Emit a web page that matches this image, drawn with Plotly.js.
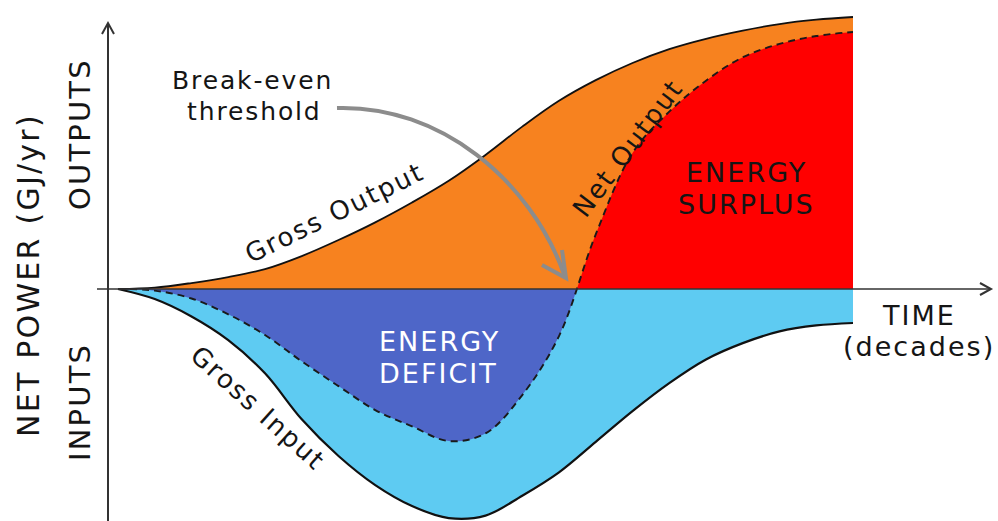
<!DOCTYPE html>
<html>
<head>
<meta charset="utf-8">
<script src="https://cdn.plot.ly/plotly-3.0.1.min.js"></script>
<style>
  html, body { margin: 0; padding: 0; background: #fff; }
  #chart { width: 998px; height: 521px; }
  text.annotation-text { letter-spacing: 0.075em; }
</style>
</head>
<body>
<div id="chart"></div>
<script>
// Time in decades
const time = [0, 0.5, 1, 1.5, 2, 2.5, 3, 3.5, 4, 4.5, 5, 5.5, 6, 6.5, 7, 7.5, 8, 8.5, 9, 9.5, 10];
// Net power (GJ/yr), schematic units
const grossOutput = [0, 0.05, 0.22, 0.44, 0.73, 1.21, 1.80, 2.45, 3.18, 3.98, 4.93, 5.97, 6.92, 7.68, 8.31, 8.82, 9.20, 9.50, 9.74, 9.90, 10.0];
const grossInput  = [0, -0.37, -1.01, -1.88, -3.10, -4.79, -6.14, -7.21, -7.98, -8.42, -8.33, -7.60, -6.74, -5.62, -4.49, -3.46, -2.59, -1.99, -1.56, -1.34, -1.25];
const netOutput   = [0, -0.06, -0.35, -0.93, -1.69, -2.66, -3.57, -4.45, -5.05, -5.59, -5.31, -3.90, -1.73, 2.01, 5.00, 6.52, 7.66, 8.52, 9.01, 9.30, 9.45];

const labels = {
  yTitle: 'NET POWER (GJ/yr)', outputs: 'OUTPUTS', inputs: 'INPUTS',
  time: 'TIME', decades: '(decades)',
  be1: 'Break-even', be2: 'threshold',
  surplus1: 'ENERGY', surplus2: 'SURPLUS',
  deficit1: 'ENERGY', deficit2: 'DEFICIT',
  grossOut: 'Gross Output', grossIn: 'Gross Input', net: 'Net Output'
};

const W = 998, H = 521;
const X = px => px / W;
const Y = py => 1 - py / H;
const FONT = 'DejaVu Sans, sans-serif';
const INK = '#151515';

const xRange = [-1.6054, 11.9728];
const yRange = [-8.529, 10.625];
const split = 0.4453;

function fillTrace(y, color, yaxis) {
  return { x: time.slice(), y: y.slice(), type: 'scatter', mode: 'lines', fill: 'tozeroy',
    fillcolor: color, line: { width: 0, shape: 'spline', color: color }, xaxis: 'x', yaxis: yaxis, hoverinfo: 'skip' };
}
function lineTrace(y, width, yaxis, dash, color) {
  return { x: time.slice(), y: y.slice(), type: 'scatter', mode: 'lines', fill: 'none',
    line: { width: width, shape: 'spline', color: color || '#111', dash: dash || 'solid' }, xaxis: 'x', yaxis: yaxis, hoverinfo: 'skip' };
}

const traces = [
  fillTrace(grossOutput, '#F7821F', 'y'),
  fillTrace(grossInput, '#5ECBF2', 'y'),
  lineTrace(grossOutput, 1.8, 'y'),
  lineTrace(grossInput, 2.2, 'y'),
  fillTrace(netOutput, '#FF0000', 'y2'),
  lineTrace(netOutput, 1.9, 'y2', '7px,5px', '#1a1a1a'),
  fillTrace(netOutput, '#4E66C8', 'y3'),
  lineTrace(netOutput, 1.9, 'y3', '7px,5px', '#1a1a1a')
];

function ann(text, px, py, size, opts) {
  return Object.assign({
    text: text, xref: 'paper', yref: 'paper', x: X(px), y: Y(py),
    xanchor: 'center', yanchor: 'middle', showarrow: false, borderpad: 0,
    font: { family: FONT, size: size, color: INK }
  }, opts || {});
}

const hidden = { visible: false, fixedrange: true };

const layout = {
  width: W, height: H,
  margin: { l: 0, r: 0, t: 0, b: 0 },
  paper_bgcolor: '#ffffff', plot_bgcolor: 'rgba(0,0,0,0)',
  showlegend: false,
  xaxis: Object.assign({ range: xRange, anchor: 'y' }, hidden),
  yaxis: Object.assign({ range: yRange, domain: [0, 1], anchor: 'x' }, hidden),
  yaxis2: Object.assign({ range: [0, yRange[1]], domain: [split, 1], anchor: 'x' }, hidden),
  yaxis3: Object.assign({ range: [yRange[0], 0], domain: [0, split], anchor: 'x' }, hidden),
  shapes: [
    { type: 'line', xref: 'paper', yref: 'paper', x0: X(108), x1: X(108), y0: Y(521), y1: Y(24), line: { color: '#333', width: 2 } },
    { type: 'path', xref: 'paper', yref: 'paper', path: `M ${X(102)},${Y(34)} L ${X(108)},${Y(23)} L ${X(114)},${Y(34)}`, line: { color: '#333', width: 2 } },
    { type: 'line', xref: 'paper', yref: 'paper', x0: X(97), x1: X(990), y0: Y(289), y1: Y(289), line: { color: '#333', width: 1.6 } },
    { type: 'path', xref: 'paper', yref: 'paper', path: `M ${X(980)},${Y(283)} L ${X(991)},${Y(289)} L ${X(980)},${Y(295)}`, line: { color: '#333', width: 2 } },
    { type: 'path', xref: 'paper', yref: 'paper', path: `M ${X(337)},${Y(108)} C ${X(440)},${Y(105)} ${X(530)},${Y(180)} ${X(564)},${Y(274)}`, line: { color: '#8C8C8C', width: 4 } },
    { type: 'path', xref: 'paper', yref: 'paper', path: `M ${X(542)},${Y(265)} L ${X(566)},${Y(278)} L ${X(562)},${Y(250)}`, line: { color: '#8C8C8C', width: 4 } }
  ],
  annotations: [
    ann(labels.yTitle, 28, 275, 30, { textangle: -90 }),
    ann(labels.outputs, 80, 134, 29, { textangle: -90 }),
    ann(labels.inputs, 80, 402, 29, { textangle: -90 }),
    ann(labels.time, 919, 315, 27),
    ann(labels.decades, 919, 347, 27),
    ann(labels.be1, 253, 81, 25),
    ann(labels.be2, 255, 111, 25),
    ann(labels.surplus1, 746, 172, 27),
    ann(labels.surplus2, 746, 204, 27),
    ann(labels.deficit1, 439, 341, 27, { font: { family: FONT, size: 27, color: '#ffffff' } }),
    ann(labels.deficit2, 438, 373, 27, { font: { family: FONT, size: 27, color: '#ffffff' } }),
    ann(labels.grossOut, 334, 213, 26, { textangle: -26 }),
    ann(labels.grossIn, 258, 408, 26, { textangle: 42 }),
    ann(labels.net, 628, 148, 26, { textangle: -53 })
  ]
};

Plotly.newPlot('chart', traces, layout, { staticPlot: true, displayModeBar: false });
</script>
</body>
</html>
